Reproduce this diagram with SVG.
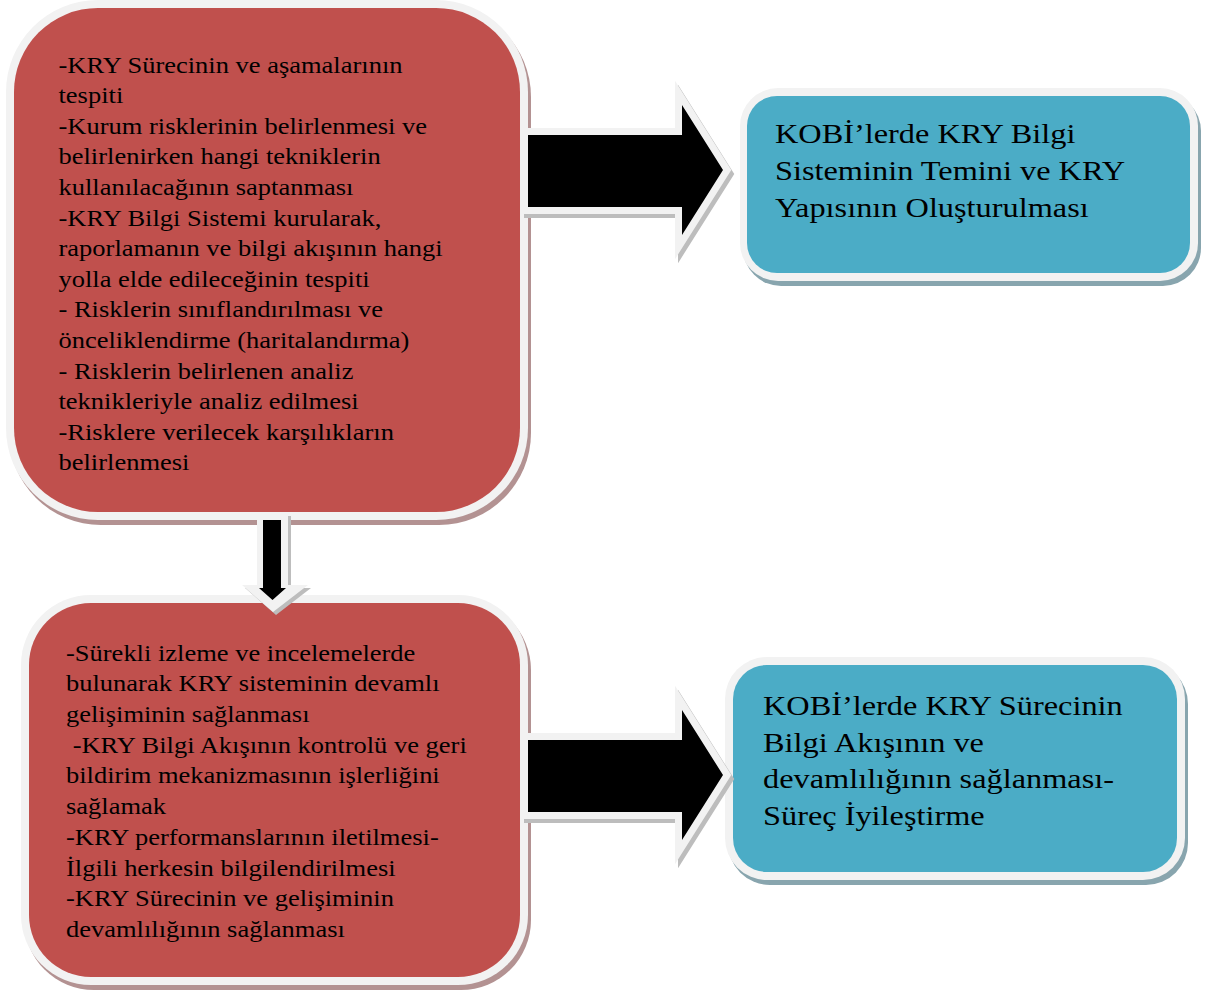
<svg xmlns="http://www.w3.org/2000/svg" width="1208" height="994" viewBox="0 0 1208 994">
  <defs>
    <style>
      .frame { fill: #f2f2f2; }
      .red { fill: #c0504d; }
      .teal { fill: #4bacc6; }
      .red-shadow { fill: #b39292; }
      .teal-shadow { fill: #88a5ae; }
      .txt { font-family: "Liberation Serif", "Times New Roman", serif; fill: #000; }
      .small { font-size: 23.5px; }
      .big { font-size: 28px; }
      .arrow-glow { fill: #f2f2f2; stroke: #f2f2f2; stroke-width: 14; stroke-linejoin: miter; }
      .arrow-shadow { fill: #bdbdbd; stroke: #bdbdbd; stroke-width: 14; stroke-linejoin: miter; }
      .arrow-body { fill: #000; }
    </style>
  </defs>

  <rect width="1208" height="994" fill="#ffffff"/>

  <!-- Step 1: process definition -->
  <g id="node-process-setup">
    <rect class="red-shadow" x="9" y="5" width="522" height="520" rx="92"/>
    <rect class="frame" x="6" y="0" width="522" height="520" rx="92"/>
    <rect class="red" x="14" y="8" width="506" height="504" rx="84"/>
    <g class="txt small" transform="translate(58.5 0) scale(1.128 1)">
      <text x="0" y="72.7">-KRY Sürecinin ve aşamalarının</text>
      <text x="0" y="103.3">tespiti</text>
      <text x="0" y="133.9">-Kurum risklerinin belirlenmesi ve</text>
      <text x="0" y="164.5">belirlenirken hangi tekniklerin</text>
      <text x="0" y="195.1">kullanılacağının saptanması</text>
      <text x="0" y="225.7">-KRY Bilgi Sistemi kurularak,</text>
      <text x="0" y="256.3">raporlamanın ve bilgi akışının hangi</text>
      <text x="0" y="286.9">yolla elde edileceğinin tespiti</text>
      <text x="0" y="317.5">- Risklerin sınıflandırılması ve</text>
      <text x="0" y="348.1">önceliklendirme (haritalandırma)</text>
      <text x="0" y="378.7">- Risklerin belirlenen analiz</text>
      <text x="0" y="409.3">teknikleriyle analiz edilmesi</text>
      <text x="0" y="439.9">-Risklere verilecek karşılıkların</text>
      <text x="0" y="470.5">belirlenmesi</text>
    </g>
  </g>

  <!-- Step 1 outcome -->
  <g id="node-system-setup">
    <rect class="teal-shadow" x="743" y="93" width="458" height="193" rx="38"/>
    <rect class="frame" x="740" y="88" width="458" height="193" rx="38"/>
    <rect class="teal" x="747" y="96" width="443" height="177" rx="30"/>
    <g class="txt big" transform="translate(775 0) scale(1.155 1)">
      <text x="0" y="143.3">KOBİ’lerde KRY Bilgi</text>
      <text x="0" y="180">Sisteminin Temini ve KRY</text>
      <text x="0" y="216.7">Yapısının Oluşturulması</text>
    </g>
  </g>

  <!-- Step 2: monitoring and feedback -->
  <g id="node-monitoring">
    <rect class="red-shadow" x="24" y="600" width="507" height="390" rx="70"/>
    <rect class="frame" x="21" y="595" width="507" height="390" rx="70"/>
    <rect class="red" x="29" y="603" width="491" height="374" rx="62"/>
    <g class="txt small" transform="translate(66 0) scale(1.128 1)">
      <text x="0" y="660.7">-Sürekli izleme ve incelemelerde</text>
      <text x="0" y="691.4">bulunarak KRY sisteminin devamlı</text>
      <text x="0" y="722.1">gelişiminin sağlanması</text>
      <text x="5.9" y="752.8">-KRY Bilgi Akışının kontrolü ve geri</text>
      <text x="0" y="783.5">bildirim mekanizmasının işlerliğini</text>
      <text x="0" y="814.2">sağlamak</text>
      <text x="0" y="844.9">-KRY performanslarının iletilmesi-</text>
      <text x="0" y="875.6">İlgili herkesin bilgilendirilmesi</text>
      <text x="0" y="906.3">-KRY Sürecinin ve gelişiminin</text>
      <text x="0" y="937">devamlılığının sağlanması</text>
    </g>
  </g>

  <!-- Step 2 outcome -->
  <g id="node-improvement">
    <rect class="teal-shadow" x="728" y="662" width="460" height="223" rx="42"/>
    <rect class="frame" x="725" y="657" width="460" height="223" rx="42"/>
    <rect class="teal" x="733" y="665" width="444" height="207" rx="34"/>
    <g class="txt big" transform="translate(763 0) scale(1.155 1)">
      <text x="0" y="715">KOBİ’lerde KRY Sürecinin</text>
      <text x="0" y="751.7">Bilgi Akışının ve</text>
      <text x="0" y="788.3">devamlılığının sağlanması-</text>
      <text x="0" y="825">Süreç İyileştirme</text>
    </g>
  </g>

  <!-- Block arrows -->
  <g id="connectors">
    <g id="arrow-top-right">
      <path class="arrow-shadow" transform="translate(3 4)" d="M528,135 H682 V105 L723,170 L682,235 V207 H528 Z"/>
      <path class="arrow-glow" d="M528,135 H682 V105 L723,170 L682,235 V207 H528 Z"/>
      <path class="arrow-body" d="M528,135 H682 V105 L723,170 L682,235 V207 H528 Z"/>
    </g>
    <g id="arrow-down">
      <path fill="#bdbdbd" transform="translate(3 3)" d="M257,513 H288 V585 H308 L273,612 L242,585 H257 Z"/>
      <path class="frame" d="M257,513 H288 V585 H308 L273,612 L242,585 H257 Z"/>
      <path class="arrow-body" d="M263,520 H281 V588 H286 L272.5,600 L259,588 H263 Z"/>
    </g>
    <g id="arrow-bottom-right">
      <path class="arrow-shadow" transform="translate(3 4)" d="M528,740 H682 V710 L723,775 L682,840 V812 H528 Z"/>
      <path class="arrow-glow" d="M528,740 H682 V710 L723,775 L682,840 V812 H528 Z"/>
      <path class="arrow-body" d="M528,740 H682 V710 L723,775 L682,840 V812 H528 Z"/>
    </g>
  </g>
</svg>
